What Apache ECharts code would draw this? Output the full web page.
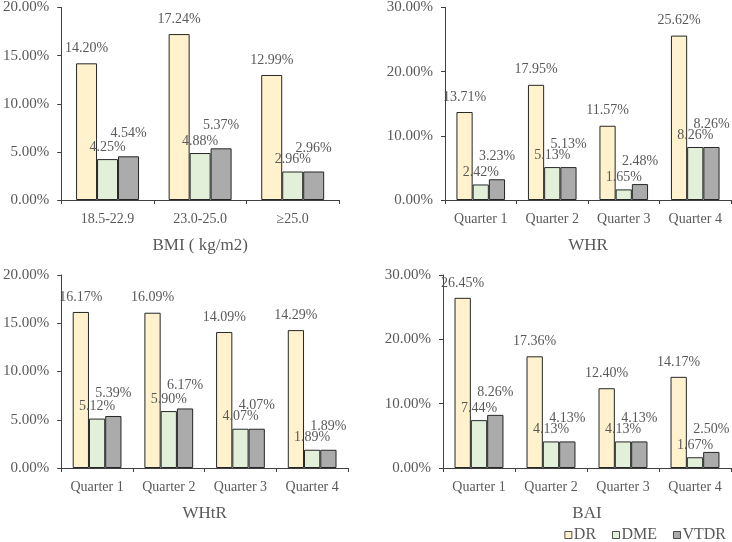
<!DOCTYPE html>
<html>
<head>
<meta charset="utf-8">
<script src="https://cdn.jsdelivr.net/npm/echarts@6/dist/echarts.min.js"></script>
<style>
html,body{margin:0;padding:0;background:#fff;}
#c{width:732px;height:542px;}
</style>
</head>
<body>
<div id="c"></div>
<script>
// ---- data ----
const seriesNames = ['DR', 'DME', 'VTDR'];

const bmiCats = ['18.5-22.9', '23.0-25.0', '\u226525.0'];
const bmiDR   = [14.20, 17.24, 12.99];
const bmiDME  = [4.25, 4.88, 2.96];
const bmiVTDR = [4.54, 5.37, 2.96];

const whrCats = ['Quarter 1', 'Quarter 2', 'Quarter 3', 'Quarter 4'];
const whrDR   = [13.71, 17.95, 11.57, 25.62];
const whrDME  = [2.42, 5.13, 1.65, 8.26];
const whrVTDR = [3.23, 5.13, 2.48, 8.26];

const whtrCats = ['Quarter 1', 'Quarter 2', 'Quarter 3', 'Quarter 4'];
const whtrDR   = [16.17, 16.09, 14.09, 14.29];
const whtrDME  = [5.12, 5.90, 4.07, 1.89];
const whtrVTDR = [5.39, 6.17, 4.07, 1.89];

const baiCats = ['Quarter 1', 'Quarter 2', 'Quarter 3', 'Quarter 4'];
const baiDR   = [26.45, 17.36, 12.40, 14.17];
const baiDME  = [7.44, 4.13, 4.13, 1.67];
const baiVTDR = [8.26, 4.13, 4.13, 2.50];

const axisNames = ['BMI ( kg/m2)', 'WHR', 'WHtR', 'BAI'];
const yMax = [20, 30, 20, 30];
const yStep = [5, 10, 5, 10];

// ---- styles ----
const FONT = '"Liberation Serif", "Times New Roman", serif';
const TXT = '#595959';
const LINE = '#404040';
const colors = ['#FFF2CC', '#E2F0D9', '#ABABAB'];
const labelDist = [8, 5, 16];

const panels = [
  {cats: bmiCats, vals: [bmiDR, bmiDME, bmiVTDR]},
  {cats: whrCats, vals: [whrDR, whrDME, whrVTDR]},
  {cats: whtrCats, vals: [whtrDR, whtrDME, whtrVTDR]},
  {cats: baiCats, vals: [baiDR, baiDME, baiVTDR]}
];

const grids = [
  {left: 61, top: 6, width: 278, height: 194},
  {left: 445, top: 6, width: 286, height: 194},
  {left: 59, top: 275, width: 289, height: 193},
  {left: 443, top: 275, width: 288, height: 193}
];

const xAxes = [], yAxes = [], series = [];
panels.forEach((p, i) => {
  xAxes.push({
    type: 'category', gridIndex: i, data: p.cats,
    name: axisNames[i], nameLocation: 'middle', nameGap: 37,
    nameTextStyle: {fontFamily: FONT, fontSize: 17, color: TXT},
    axisLine: {lineStyle: {color: LINE, width: 1}},
    axisTick: {show: true, length: 4, lineStyle: {color: LINE}},
    axisLabel: {fontFamily: FONT, fontSize: 14, color: TXT, margin: 12, interval: 0}
  });
  yAxes.push({
    type: 'value', gridIndex: i, min: 0, max: yMax[i], interval: yStep[i],
    splitLine: {show: false},
    axisLine: {show: true, lineStyle: {color: LINE, width: 1}},
    axisTick: {show: true, length: 4, lineStyle: {color: LINE}},
    axisLabel: {fontFamily: FONT, fontSize: 15, color: TXT, margin: 12,
      formatter: v => v.toFixed(2) + '%'}
  });
  p.vals.forEach((vals, s) => {
    series.push({
      name: seriesNames[s], type: 'bar', xAxisIndex: i, yAxisIndex: i,
      data: vals, barGap: '0%', barCategoryGap: '32%',
      itemStyle: {color: colors[s], borderColor: '#262626', borderWidth: 1},
      label: {show: true, position: 'top', distance: labelDist[s],
        fontFamily: FONT, fontSize: 14, color: TXT,
        formatter: d => d.value.toFixed(2) + '%'},
      emphasis: {disabled: true}
    });
  });
});

const chart = echarts.init(document.getElementById('c'), null, {renderer: 'canvas'});
chart.setOption({
  animation: false,
  backgroundColor: '#fff',
  grid: grids,
  xAxis: xAxes,
  yAxis: yAxes,
  legend: {
    data: seriesNames, right: 6, top: 527, padding: 0, icon: 'rect',
    itemWidth: 7, itemHeight: 7, itemGap: 16,
    itemStyle: {borderWidth: 0.8},
    textStyle: {fontFamily: FONT, fontSize: 16, color: TXT, padding: [0, 0, 0, -3]}
  },
  series: series
});
</script>
</body>
</html>
